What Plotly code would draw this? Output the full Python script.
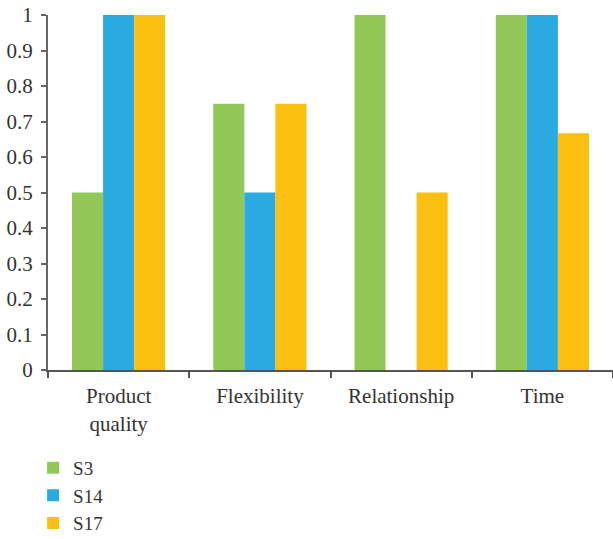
import plotly.graph_objects as go

categories = ["Product<br>quality", "Flexibility", "Relationship", "Time"]
s3_values = [0.5, 0.75, 1.0, 1.0]
s14_values = [1.0, 0.5, 0.0, 1.0]
s17_values = [1.0, 0.75, 0.5, 0.667]
y_ticks = [0, 0.1, 0.2, 0.3, 0.4, 0.5, 0.6, 0.7, 0.8, 0.9, 1]
y_tick_labels = ["0", "0.1", "0.2", "0.3", "0.4", "0.5", "0.6", "0.7", "0.8", "0.9", "1"]

series = [
    ("S3", s3_values, "#92c857"),
    ("S14", s14_values, "#29abe2"),
    ("S17", s17_values, "#fbbf12"),
]

fig = go.Figure()
for name, vals, color in series:
    fig.add_trace(go.Bar(name=name, x=categories, y=vals,
                         marker=dict(color=color, line=dict(width=0))))

font_family = "'Liberation Serif', 'DejaVu Serif', serif"
text_color = "#333333"
fsize = 21

fig.update_layout(
    width=613, height=539,
    margin=dict(l=48, r=0, t=15, b=169, autoexpand=False),
    paper_bgcolor="white", plot_bgcolor="white",
    barmode="group", bargap=0.34, bargroupgap=0,
    font=dict(family=font_family, size=fsize, color=text_color),
    showlegend=True,
    legend=dict(orientation="v", x=0.054, xanchor="left", xref="container",
                y=-0.222, yanchor="top", yref="paper",
                font=dict(size=19, color=text_color),
                itemwidth=30, tracegroupgap=0, bgcolor="rgba(0,0,0,0)"),
    xaxis=dict(showline=True, linecolor="#555555", linewidth=2,
               ticks="outside", ticklen=6, tickcolor="#555555", tickwidth=2,
               tickson="boundaries", showgrid=False, zeroline=False,
               automargin=False, ticklabelstandoff=6,
               tickfont=dict(size=fsize, color=text_color)),
    yaxis=dict(range=[0, 1], tickvals=y_ticks, ticktext=y_tick_labels,
               showline=True, linecolor="#666666", linewidth=2,
               ticks="outside", ticklen=5, tickcolor="#666666", tickwidth=2,
               showgrid=False, zeroline=False, automargin=False,
               ticklabelstandoff=4,
               tickfont=dict(size=fsize, color=text_color)),
)

fig.write_html("out.html")
